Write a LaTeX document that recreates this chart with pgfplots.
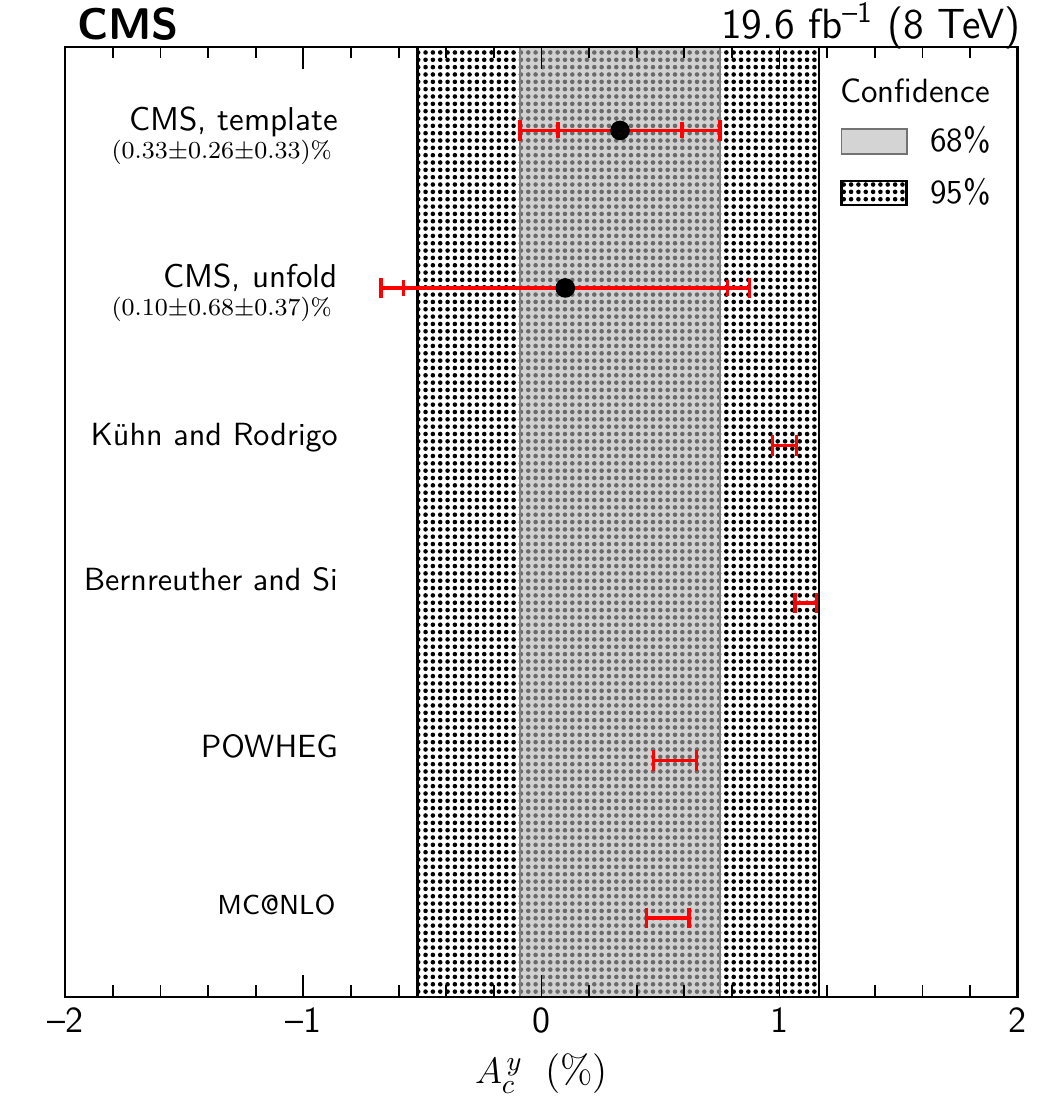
\documentclass[border=0pt]{standalone}
\usepackage{pgfplots}
\pgfplotsset{compat=1.18}
\usetikzlibrary{patterns.meta}
\pgfplotsset{
  mybox/.style={legend image code/.code={\draw[##1] (0cm,-0.14cm) rectangle (0.75cm,0.14cm);}},
}
\begin{document}
\begin{tikzpicture}
\begin{axis}[
  scale only axis, width=10.95cm, height=10.92cm,
  xmin=-2, xmax=2, ymin=0.5, ymax=6.53,
  clip mode=individual,
  xtick={-2,-1,0,1,2},
  xticklabels={\textendash2,\textendash1,0,1,2},
  minor x tick num=4,
  ytick=\empty,
  major tick length=0.25cm, minor tick length=0.13cm,
  axis line style={line width=0.8pt},
  every tick/.style={black, line width=0.6pt},
  axis on top,
  xticklabel style={font=\fontsize{12}{14}\selectfont\sffamily},
  xlabel={$A_{c}^{\,y}$\;\;(\%)},
  xlabel style={font=\fontsize{13}{16}\selectfont},
  legend style={at={(rel axis cs:0.813,0.92)}, anchor=north west, draw=none, fill=none,
    font=\fontsize{11}{13}\selectfont\sffamily, row sep=0.18cm, inner sep=0pt,
    nodes={inner sep=1pt},
    /tikz/every odd column/.append style={column sep=0.22cm}},
  legend cell align=left,
]
% 95% band
\addplot[forget plot, draw=black, line width=0.8pt, pattern={Dots[distance=2.4pt, radius=0.75pt]}, pattern color=black]
  coordinates {(-0.52,0) (-0.52,7) (1.165,7) (1.165,0)} -- cycle;
% 68% band
\addplot[forget plot, fill=black!30, fill opacity=0.6, draw=black!50, line width=0.6pt]
  coordinates {(-0.09,0) (-0.09,7) (0.75,7) (0.75,0)} -- cycle;

% total uncertainties (CMS)
\addplot[forget plot, draw=none, mark=none,
  error bars/.cd, x dir=both, x explicit, error mark=|,
  error bar style={draw=red, line width=1.1pt},
  error mark options={draw=red, line width=1.1pt, mark size=3.4pt}]
  coordinates {(0.33,6) +- (0.42,0) (0.10,5) +- (0.774,0)};
% stat uncertainties (CMS)
\addplot[forget plot, draw=none, mark=none,
  error bars/.cd, x dir=both, x explicit, error mark=|,
  error bar style={draw=red, line width=1.1pt},
  error mark options={draw=red, line width=1.1pt, mark size=2.6pt}]
  coordinates {(0.33,6) +- (0.26,0) (0.10,5) +- (0.68,0)};
% central values
\addplot[forget plot, only marks, mark=*, mark size=3pt, black]
  coordinates {(0.33,6) (0.10,5)};
% theory predictions
\addplot[forget plot, draw=none, mark=none,
  error bars/.cd, x dir=both, x explicit, error mark=|,
  error bar style={draw=red, line width=1.1pt},
  error mark options={draw=red, line width=1.1pt, mark size=3.3pt}]
  coordinates {(1.02,4) +- (0.05,0) (1.11,3) +- (0.045,0) (0.56,2) +- (0.09,0) (0.53,1) +- (0.09,0)};

% legend
\addlegendimage{mybox, fill=black!17, draw=black!55, line width=0.6pt}
\addlegendentry{68\%}
\addlegendimage{mybox, draw=black, line width=0.8pt, pattern={Dots[distance=2.4pt, radius=0.75pt]}, pattern color=black}
\addlegendentry{95\%}

% labels
\node[anchor=base west, inner sep=0pt, font=\fontsize{11}{13}\selectfont\sffamily] at (rel axis cs:0.813,0.941) {Confidence};
\node[anchor=base east, font=\fontsize{10.8}{13}\selectfont\sffamily] at (axis cs:-0.81,6) {CMS, template};
\node[anchor=base east, font=\fontsize{7.8}{9}\selectfont, yshift=-0.32cm] at (axis cs:-0.835,6) {$(0.33{\pm}0.26{\pm}0.33)$\%};
\node[anchor=base east, font=\fontsize{10.8}{13}\selectfont\sffamily] at (axis cs:-0.81,5) {CMS, unfold};
\node[anchor=base east, font=\fontsize{7.8}{9}\selectfont, yshift=-0.32cm] at (axis cs:-0.835,5) {$(0.10{\pm}0.68{\pm}0.37)$\%};
\node[anchor=base east, font=\fontsize{10.5}{13}\selectfont\sffamily] at (axis cs:-0.81,4) {K\"uhn and Rodrigo};
\node[anchor=base east, font=\fontsize{10.5}{13}\selectfont\sffamily] at (axis cs:-0.81,3.08) {Bernreuther and Si};
\node[anchor=base east, font=\fontsize{10.5}{13}\selectfont\sffamily] at (axis cs:-0.81,2.02) {POWHEG};
\node[anchor=base east, font=\fontsize{9}{11}\selectfont\sffamily] at (axis cs:-0.82,1.02) {MC@NLO};

\node[anchor=base west, inner sep=0pt, font=\fontsize{14.5}{18}\selectfont\sffamily\bfseries, yshift=0.08cm] at (rel axis cs:0.012,1) {CMS};
\node[anchor=base east, inner sep=0pt, font=\fontsize{13.8}{16}\selectfont\sffamily, yshift=0.1cm, xshift=0.04cm] at (rel axis cs:1,1) {19.6 fb\textsuperscript{\textendash1} (8 TeV)};
\end{axis}
\pgfresetboundingbox
\path[use as bounding box] ([xshift=-0.75cm,yshift=-1.29cm]current axis.south west) rectangle ([xshift=0.30cm,yshift=0.54cm]current axis.north east);
\end{tikzpicture}
\end{document}
